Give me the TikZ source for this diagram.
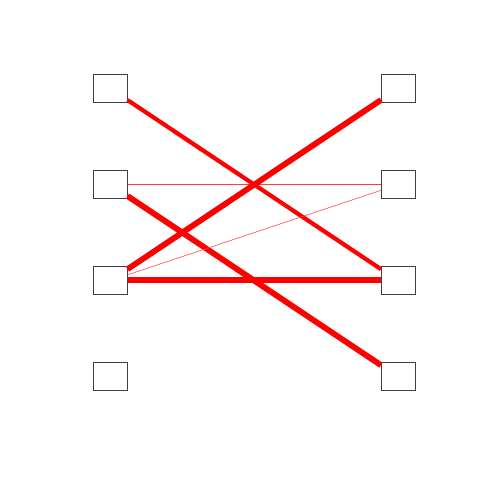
\documentclass[tikz,border=0pt]{standalone}
\begin{document}
\begin{tikzpicture}[x=1pt,y=1pt,
  box/.style={draw=black!75, line width=0.9pt, minimum width=34pt, minimum height=28.5pt, inner sep=0pt, outer sep=0pt},
  edge/.style={draw=red, line cap=butt},
  thinedge/.style={draw=red!75, line width=0.6pt}]
\useasboundingbox (0,0) rectangle (480,480);
\node[box] (l1) at (110.5,391.3) {};
\node[box] (l2) at (110.5,295.3) {};
\node[box] (l3) at (110.5,199.5) {};
\node[box] (l4) at (110.5,103.5) {};
\node[box] (r1) at (398,391.3) {};
\node[box] (r2) at (398,295.3) {};
\node[box] (r3) at (398,199.5) {};
\node[box] (r4) at (398,103.5) {};
\draw[edge, line width=4.2pt] (l1) -- (r3);
\draw[thinedge] (l2) -- (r2);
\draw[edge, line width=5.8pt] (l2) -- (r4);
\draw[edge, line width=5.8pt] (l3) -- (r1);
\draw[thinedge] (l3) -- (r2);
\draw[edge, line width=6pt] (l3) -- (r3);
\end{tikzpicture}
\end{document}
